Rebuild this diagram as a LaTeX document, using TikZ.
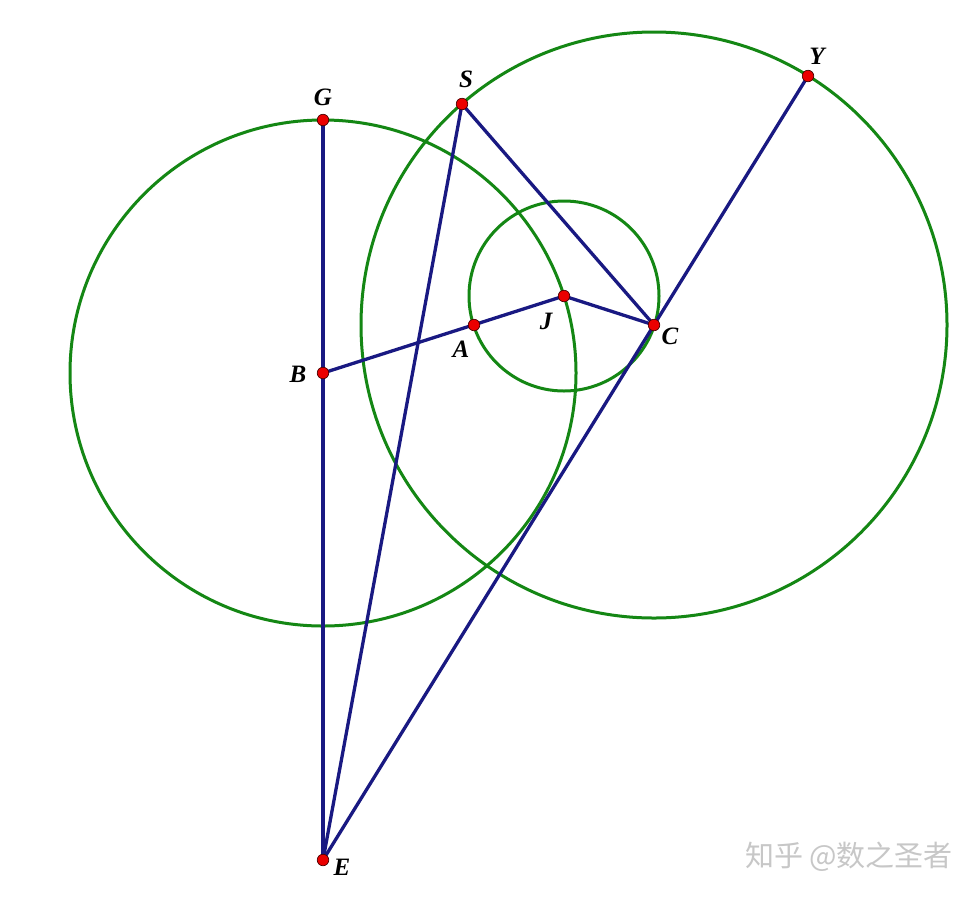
\documentclass[tikz,border=0pt]{standalone}
\usepackage{fontspec}
\setmainfont{Liberation Serif}
\newfontfamily\cjk{Noto Sans CJK SC}
\definecolor{geogreen}{RGB}{20,135,20}
\definecolor{geoblue}{RGB}{25,25,130}
\definecolor{ptred}{RGB}{235,0,0}
\begin{document}
\begin{tikzpicture}[x=1pt,y=-1pt,
  circ/.style={draw=geogreen,line width=3pt},
  seg/.style={draw=geoblue,line width=3.3pt},
  pt/.style={circle,fill=ptred,draw=black!70!red,line width=0.7pt,inner sep=0pt,minimum size=11.5pt},
  lab/.style={font=\fontsize{25}{25}\selectfont\bfseries\itshape,inner sep=0pt}]
\useasboundingbox (0,0) rectangle (979,898);
\fill[white] (0,0) rectangle (979,898);
% points
\coordinate (G) at (323,120);
\coordinate (B) at (323,373);
\coordinate (E) at (323,860);
\coordinate (S) at (462,104);
\coordinate (Y) at (808,76);
\coordinate (A) at (474,325);
\coordinate (J) at (564,296);
\coordinate (C) at (654,325);
% circles
\draw[circ] (B) circle (253);
\draw[circ] (C) circle (293);
\draw[circ] (J) circle (95);
% segments
\draw[seg] (G) -- (E);
\draw[seg] (B) -- (J);
\draw[seg] (J) -- (C);
\draw[seg] (S) -- (C);
\draw[seg] (S) -- (E);
\draw[seg] (E) -- (Y);
% point markers
\foreach \p in {G,B,E,S,Y,A,J,C} \node[pt] (n\p) at (\p) {};
% labels
\node[lab] (lG) at (323,97) {G};
\node[lab] (lS) at (466,79) {S};
\node[lab] (lY) at (817,56) {Y};
\node[lab] (lB) at (298,374) {B};
\node[lab] (lA) at (461,349) {A};
\node[lab] (lJ) at (546,321) {J};
\node[lab] (lC) at (670,336) {C};
\node[lab] (lE) at (342,867) {E};
% watermark
\node[font=\cjk\fontsize{29}{29}\selectfont,text=black!22,inner sep=0pt] (wm) at (849,857) {知乎 @数之圣者};
\end{tikzpicture}
\end{document}
